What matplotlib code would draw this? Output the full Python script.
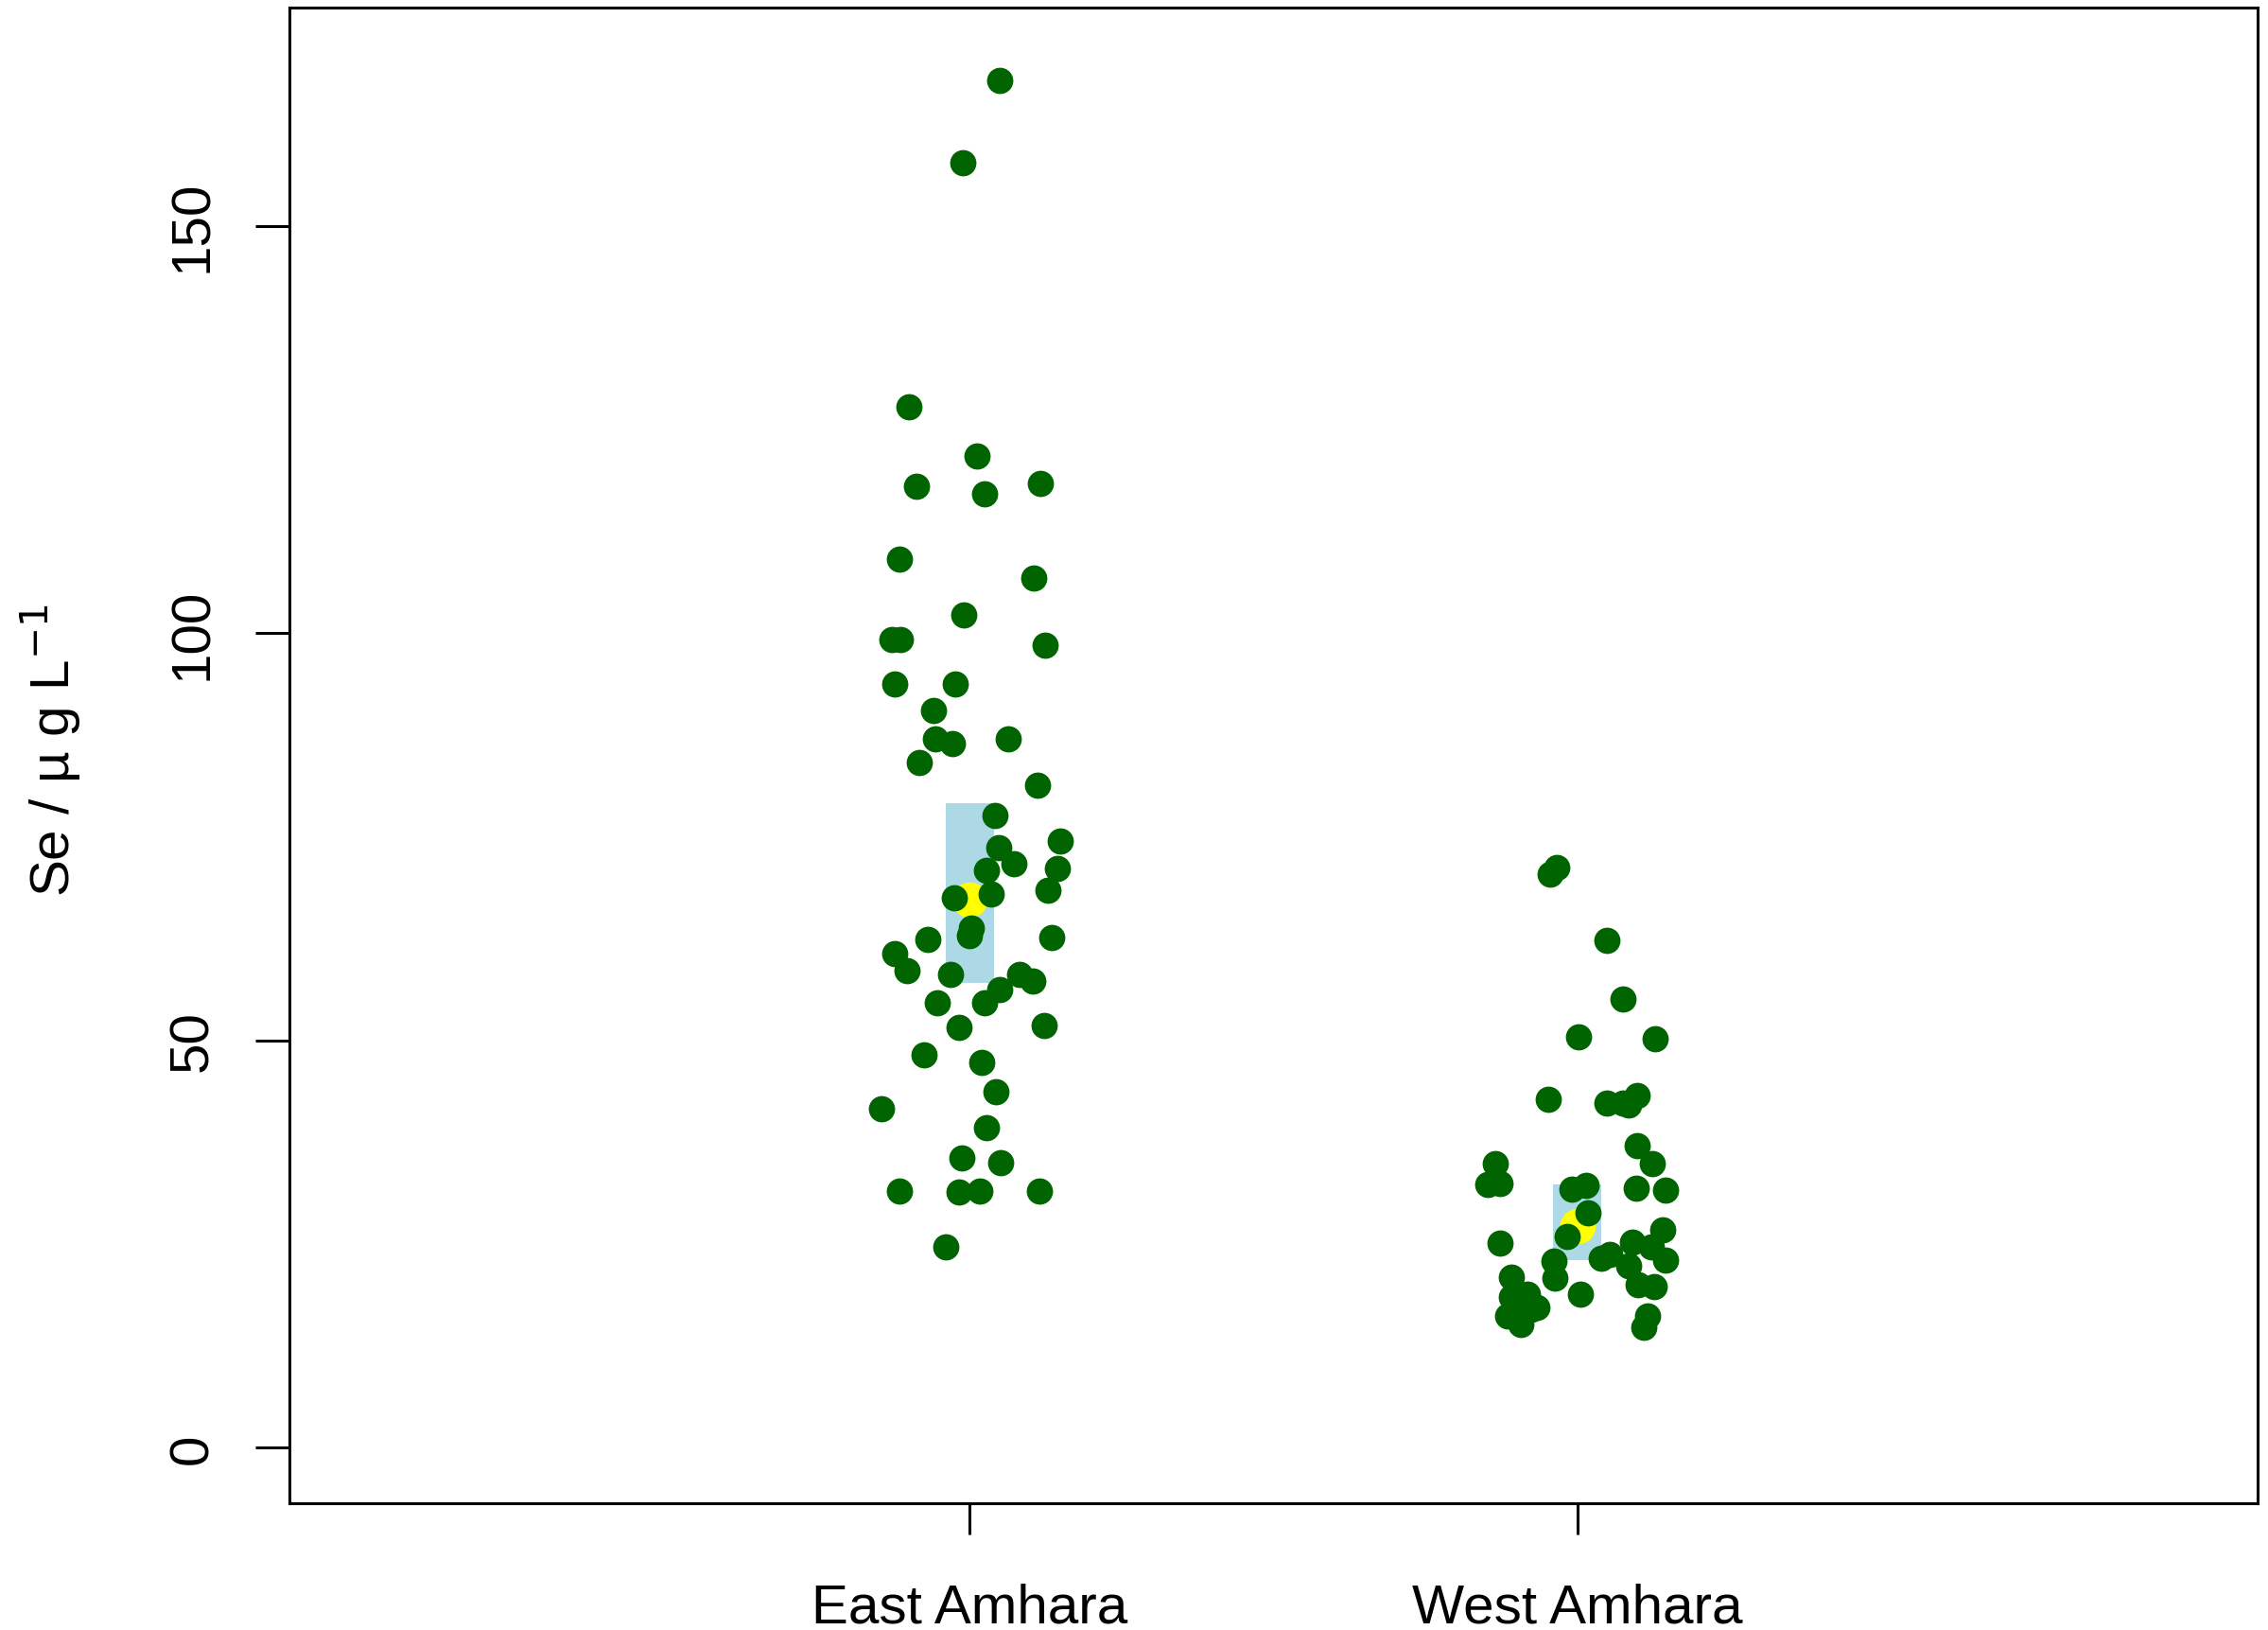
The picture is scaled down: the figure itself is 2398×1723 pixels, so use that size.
'''
Se concentration by region, jittered points with median + interval box
'''

import numpy as np
import matplotlib.pyplot as plt

plt.rcParams['font.family'] = ['Liberation Sans', 'DejaVu Sans']

regions = ['East Amhara', 'West Amhara']

# values, with the horizontal jitter of each point
east_se = [167.8, 157.8, 127.8, 121.7, 118.0, 118.4, 117.1, 109.1, 106.8, 102.2,
           99.2, 99.2, 98.5, 93.8, 93.8, 90.5,
           87.0, 86.5, 87.0, 84.1, 81.4, 77.6, 74.5, 73.7, 71.7, 71.1, 70.9, 68.5,
           68.0, 67.5, 63.8, 62.9, 62.6, 62.4, 60.7, 58.6, 58.1, 58.1, 57.3,
           56.3, 54.6, 54.6, 51.6, 51.8, 48.2, 47.3, 43.7, 41.6, 39.3, 35.6, 35.0,
           31.5, 31.4, 31.5, 31.5, 24.7]
east_jit = [0.050, -0.012, -0.100, 0.012, -0.087, 0.116, 0.024, -0.116, 0.105, -0.010,
            -0.128, -0.114, 0.124, -0.124, -0.024, -0.059,
            -0.057, -0.029, 0.063, -0.083, 0.112, 0.042, 0.149, 0.048, 0.072, 0.145, 0.028, 0.128,
            0.036, -0.026, 0.003, -0.001, 0.135, -0.069, -0.123, -0.104, -0.032, 0.082, 0.104,
            0.050, -0.053, 0.025, -0.017, 0.123, -0.076, 0.020, 0.043, -0.146, 0.028, -0.013, 0.051,
            -0.116, -0.018, 0.016, 0.114, -0.040]

west_se = [70.4, 71.2, 62.3, 55.1, 50.5, 50.2, 42.8, 42.3, 42.3, 42.1, 43.3,
           34.95, 32.3, 32.4, 31.8, 32.2, 28.9, 25.9, 25.1, 22.9, 20.8, 18.9, 21.0,
           18.5, 18.9, 17.3, 16.2, 15.2, 17.0,
           37.1, 34.9, 31.9, 31.6, 26.8, 25.3, 23.3, 23.7, 22.4, 24.7, 23.0, 20.0, 19.8,
           16.2, 14.8]
west_jit = [-0.044, -0.034, 0.049, 0.075, 0.002, 0.128, -0.048, 0.049, 0.075, 0.085, 0.098,
            -0.135, -0.148, -0.127, -0.008, 0.015, 0.018, -0.017, -0.127, -0.039, -0.036, 0.005, -0.109,
            -0.109, -0.082, -0.066, -0.114, -0.093, -0.075,
            0.098, 0.123, 0.097, 0.146, 0.140, 0.091, 0.039, 0.054, 0.085, 0.122, 0.146, 0.100, 0.127,
            0.116, 0.109]

# centre (yellow) and interval (blue box) per region
centre = [67.3, 27.2]
lower = [57.1, 23.0]
upper = [79.1, 32.3]

fig = plt.figure(figsize=(11.99, 8.62), dpi=200)
ax = fig.add_axes([0.1276, 0.0777, 0.8678, 0.9171])

pos = [1, 2]
for p, lo, hi in zip(pos, lower, upper):
    ax.fill_between([p - 0.04, p + 0.04], lo, hi, color='#ADD8E6', lw=0, zorder=1)
ax.plot(pos, centre, 'o', color='yellow', ms=13.5, mec='none', zorder=2)

ax.plot(1 + np.array(east_jit), east_se, 'o', color='#006400', ms=10, mec='none', zorder=3)
ax.plot(2 + np.array(west_jit), west_se, 'o', color='#006400', ms=10, mec='none', zorder=3)

ax.set_xlim(-0.12, 3.12)
ax.set_ylim(-6.8, 176.8)
ax.set_xticks(pos)
ax.set_xticklabels(regions, fontsize=21)
ax.set_yticks([0, 50, 100, 150])
ax.set_yticklabels(['0', '50', '100', '150'], fontsize=21, rotation=90, va='center')
ax.tick_params(axis='y', length=13, width=1.1, pad=14)
ax.tick_params(axis='x', length=12, width=1.1, pad=18)
for s in ax.spines.values():
    s.set_linewidth(1.1)

fig.text(54 / 2398, 0.54, 'Se / µ g L$^{-1}$', rotation=90, ha='center', va='center', fontsize=21)

fig.savefig('out.png', dpi=200)
